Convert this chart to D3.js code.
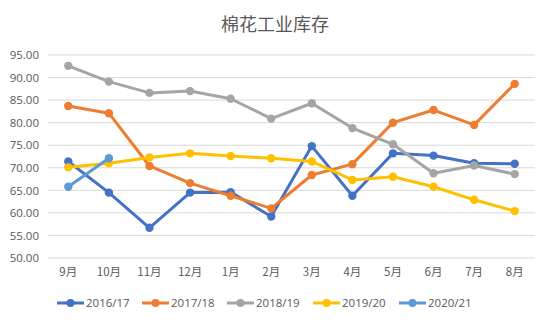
<!DOCTYPE html>
<html>
<head>
<meta charset="utf-8">
<script src="https://cdn.jsdelivr.net/npm/d3@7/dist/d3.min.js"></script>
<style>
  html, body { margin: 0; padding: 0; background: #fff; }
  svg { display: block; }
  text { font-family: "Noto Sans CJK SC", "Noto Sans", sans-serif; fill: #595959; }
</style>
</head>
<body>
<svg id="chart" width="550" height="325"></svg>
<script>
const title = "棉花工业库存";
const months = ["9月","10月","11月","12月","1月","2月","3月","4月","5月","6月","7月","8月"];
const yTicks = [50,55,60,65,70,75,80,85,90,95];
const seriesNames = ["2016/17","2017/18","2018/19","2019/20","2020/21"];
const seriesColors = ["#4472C4","#ED7D31","#A5A5A5","#FFC000","#5B9BD5"];
const s2016 = [71.4,64.5,56.7,64.5,64.6,59.2,74.8,63.8,73.2,72.7,71.0,70.9];
const s2017 = [83.7,82.1,70.4,66.6,63.8,61.0,68.4,70.8,80.0,82.8,79.5,88.6];
const s2018 = [92.6,89.1,86.6,87.0,85.3,80.9,84.3,78.8,75.2,68.8,70.5,68.6];
const s2019 = [70.1,71.0,72.3,73.2,72.6,72.1,71.4,67.3,68.0,65.8,62.9,60.4];
const s2020 = [65.8,72.1];
const seriesValues = [s2016, s2017, s2018, s2019, s2020];

(function () {
const svg = d3.select("#chart");
const pLeft = 48, pRight = 535, pTop = 55, pBottom = 258;

svg.append("text")
  .attr("x", 275).attr("y", 31)
  .attr("text-anchor", "middle")
  .style("font-size", "18px")
  .text(title);

const x = d3.scaleBand().domain(months).range([pLeft, pRight]);
const y = d3.scaleLinear().domain([50, 95]).range([pBottom, pTop]);

svg.append("g").selectAll("line").data(yTicks).join("line")
  .attr("x1", pLeft).attr("x2", pRight)
  .attr("y1", d => y(d)).attr("y2", d => y(d))
  .attr("stroke", "#D9D9D9").attr("stroke-width", 1);

const yAxis = d3.axisLeft(y).tickValues(yTicks).tickFormat(d3.format(".2f")).tickSize(0).tickPadding(0);
const gy = svg.append("g").attr("transform", "translate(39,0)").call(yAxis);
gy.select(".domain").remove();
gy.selectAll("text").style("font-size", "11.5px").style("font-family", "'Open Sans', 'Noto Sans', sans-serif").attr("fill", "#595959");

const xAxis = d3.axisBottom(x).tickSize(0).tickPadding(0);
const gx = svg.append("g").attr("transform", "translate(0,268)").call(xAxis);
gx.select(".domain").remove();
gx.selectAll("text").style("font-size", "11.5px").attr("fill", "#595959");

const line = d3.line().x((d, i) => x(months[i]) + x.bandwidth() / 2).y(d => y(d));

seriesValues.forEach((vals, si) => {
  const g = svg.append("g");
  g.append("path").datum(vals)
    .attr("d", line)
    .attr("fill", "none")
    .attr("stroke", seriesColors[si])
    .attr("stroke-width", 3)
    .attr("stroke-linejoin", "round")
    .attr("stroke-linecap", "round");
  g.selectAll("circle").data(vals).join("circle")
    .attr("cx", (d, i) => x(months[i]) + x.bandwidth() / 2)
    .attr("cy", d => y(d))
    .attr("r", 4.2)
    .attr("fill", seriesColors[si]);
});

const legendX = [57, 142, 227, 313, 399];
const lg = svg.append("g").attr("transform", "translate(0,303)");
seriesNames.forEach((name, i) => {
  const g = lg.append("g").attr("transform", `translate(${legendX[i]},0)`);
  g.append("line").attr("x1", 0).attr("x2", 27).attr("y1", 0).attr("y2", 0)
    .attr("stroke", seriesColors[i]).attr("stroke-width", 3);
  g.append("circle").attr("cx", 13.5).attr("cy", 0).attr("r", 4).attr("fill", seriesColors[i]);
  g.append("text").attr("x", 29).attr("y", 0).attr("dy", "0.35em")
    .style("font-size", "11.5px").style("font-family", "'Open Sans', 'Noto Sans', sans-serif")
    .text(name);
});
})();
</script>
</body>
</html>
